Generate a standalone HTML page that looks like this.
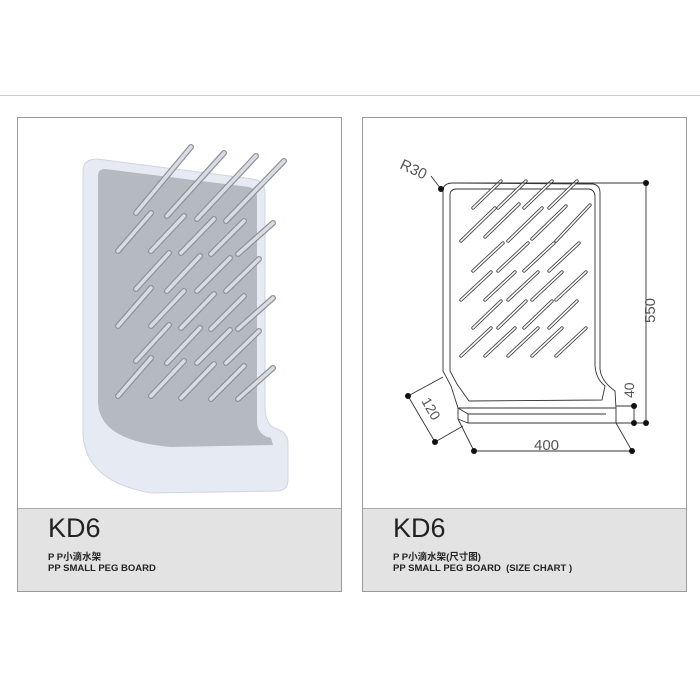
<!DOCTYPE html><html><head><meta charset="utf-8"><style>
body{margin:0;width:700px;height:700px;background:#fff;overflow:hidden;font-family:"Liberation Sans","Noto Sans CJK SC",sans-serif}
.p{position:absolute;top:117px;width:325px;height:475px;border:1px solid #9a9a9a;box-sizing:border-box;background:#fff}
.f{position:absolute;left:0;right:0;bottom:0;height:82px;background:#e3e3e3;border-top:1px solid #aaa}
.t{position:absolute;left:30px;top:4px;font-size:27px;color:#222}
.s{position:absolute;left:30px;font-size:9.5px;color:#222;font-weight:bold}
</style></head><body>
<div style="position:absolute;left:0;right:0;top:95px;height:1px;background:#ccc"></div>
<div class="p" style="left:17px">
<svg width="325" height="393" style="position:absolute;left:0;top:0" viewBox="17 117 325 393">
<path d="M82 170 Q82 158 96 158 L252 178 Q264 180 264 192 L264 405 Q264 425 276 428 Q287 432 287 442 L287 478 Q287 490 276 490 L150 492 Q82 480 82 430 Z" fill="#e6eaf2" stroke="#cfd5df"/>
<path d="M97 175 Q97 168 104 168 L248 186 Q256 188 256 196 L256 420 Q256 434 270 437 L272 444 L170 446 Q97 440 97 400 Z" fill="#b5b9c0"/>
<g stroke-linecap="round">
<g stroke="#8e939b" stroke-width="6">
<line x1="135" y1="212" x2="190" y2="146"/><line x1="166" y1="215" x2="223" y2="152"/><line x1="196" y1="218" x2="255" y2="155"/><line x1="225" y1="220" x2="283" y2="160"/>
<g id="a"><line x1="117" y1="250" x2="150" y2="212"/><line x1="150" y1="250" x2="183" y2="215"/><line x1="180" y1="252" x2="213" y2="218"/><line x1="210" y1="253" x2="243" y2="220"/><line x1="237" y1="253" x2="272" y2="222"/></g>
<g id="b"><line x1="135" y1="288" x2="168" y2="252"/><line x1="166" y1="290" x2="199" y2="255"/><line x1="196" y1="290" x2="229" y2="257"/><line x1="225" y1="290" x2="258" y2="258"/></g>
<use href="#a" y="75"/><use href="#b" y="72"/><use href="#a" y="145"/>
</g></g>
<g stroke="#d9dce2" stroke-width="3.5" stroke-linecap="round">
<line x1="135" y1="212" x2="190" y2="146"/><line x1="166" y1="215" x2="223" y2="152"/><line x1="196" y1="218" x2="255" y2="155"/><line x1="225" y1="220" x2="283" y2="160"/>
<g id="c"><line x1="117" y1="250" x2="150" y2="212"/><line x1="150" y1="250" x2="183" y2="215"/><line x1="180" y1="252" x2="213" y2="218"/><line x1="210" y1="253" x2="243" y2="220"/><line x1="237" y1="253" x2="272" y2="222"/></g>
<g id="d"><line x1="135" y1="288" x2="168" y2="252"/><line x1="166" y1="290" x2="199" y2="255"/><line x1="196" y1="290" x2="229" y2="257"/><line x1="225" y1="290" x2="258" y2="258"/></g>
<use href="#c" y="75"/><use href="#d" y="72"/><use href="#c" y="145"/>
</g>
</svg>
<div class="f"><div class="t">KD6</div><div class="s" style="top:40px">P P小滴水架</div><div class="s" style="top:54px">PP SMALL PEG BOARD</div></div>
</div>
<div class="p" style="left:362px">
<svg width="325" height="393" style="position:absolute;left:0;top:0" viewBox="362 117 325 393" fill="none" stroke="#333" stroke-width="0.9">
<path d="M442 190 Q442 182 452 182 L592 183 Q599 184 599 192 L599 368 Q600 380 614 390 L615 407 L457 407 L450 385 L442 370 Z"/>
<path d="M449 194 Q449 188 456 188 L588 188 Q594 189 594 196 L594 365 Q595 378 604 385 L601 399 L468 400 L456 383 L449 370 Z"/>
<path d="M457 407 L467 413 L467 422 L615 422 L615 407 M467 413 L605 413"/>
<line x1="457" y1="407" x2="457" y2="418"/><line x1="457" y1="418" x2="467" y2="422"/>
<g stroke-linecap="round"><g stroke="#444" stroke-width="3.4"><path id="pp" d="M472 207l28-27M497 207l28-27M523 207l28-27M548 207l28-27M460 240l34-33M484 236l34-33M507 240l34-33M531 238l34-33M555 240l34-36M472 270l30-28M497 270l30-28M523 270l30-28M548 270l30-28M460 299l30-28M484 299l30-28M507 299l30-28M531 299l30-28M555 299l30-28M472 327l28-27M497 327l28-27M523 327l28-27M548 327l28-27M460 355l30-28M484 355l30-28M507 355l30-28M531 355l30-28M555 355l30-28"/></g>
<g stroke="#fff" stroke-width="1.6"><use href="#pp"/></g></g>
<line x1="440" y1="188" x2="430" y2="175"/>
<line x1="452" y1="182" x2="645" y2="182"/><line x1="645" y1="182" x2="645" y2="422"/>
<line x1="615" y1="422" x2="645" y2="422"/><line x1="615" y1="405" x2="633" y2="405"/><line x1="633" y1="405" x2="633" y2="422"/>
<line x1="407" y1="395" x2="442" y2="376"/><line x1="407" y1="395" x2="434" y2="441"/><line x1="434" y1="441" x2="462" y2="425"/>
<line x1="457" y1="418" x2="473" y2="450"/><line x1="473" y1="450" x2="631" y2="450"/><line x1="615" y1="422" x2="631" y2="450"/>
<g fill="#111" stroke="none"><circle cx="440" cy="188" r="3"/><circle cx="645" cy="182" r="3"/><circle cx="645" cy="422" r="3"/><circle cx="633" cy="422" r="3"/><circle cx="633" cy="405" r="3"/><circle cx="407" cy="395" r="3"/><circle cx="434" cy="441" r="3"/><circle cx="473" cy="450" r="3"/><circle cx="631" cy="450" r="3"/></g>
<g fill="#555" stroke="none" font-family="Liberation Sans" font-size="15">
<text transform="translate(398,167) rotate(25)">R30</text>
<text transform="translate(654,322) rotate(-90)">550</text>
<text transform="translate(633,397) rotate(-90)" font-size="14">40</text>
<text transform="translate(420,400) rotate(60)" font-size="14">120</text>
<text x="533" y="449">400</text></g>
</svg>
<div class="f"><div class="t">KD6</div><div class="s" style="top:40px">P P小滴水架(尺寸图)</div><div class="s" style="top:54px">PP SMALL PEG BOARD &nbsp;(SIZE CHART )</div></div>
</div>
</body></html>
